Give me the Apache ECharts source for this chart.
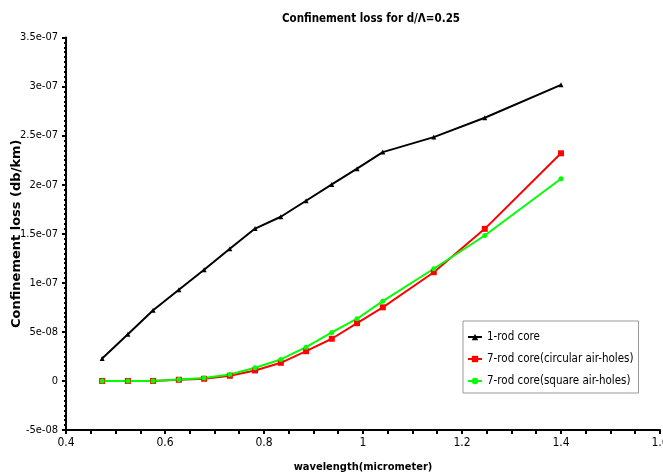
<!DOCTYPE html>
<html>
<head>
<meta charset="utf-8">
<script src="https://cdn.jsdelivr.net/npm/echarts@6/dist/echarts.min.js"></script>
<style>html,body{margin:0;padding:0;background:#fff}#c{width:663px;height:476px}</style>
</head>
<body>
<div id="c"></div>
<script>
// wavelength (micrometer) of each marked point
const wavelengths = [0.473, 0.525, 0.576, 0.628, 0.679, 0.731, 0.782, 0.834, 0.885, 0.937, 0.988, 1.040, 1.143, 1.246, 1.400];
// confinement loss (db/km)
const rod1 = [2.28e-8, 4.76e-8, 7.2e-8, 9.3e-8, 1.134e-7, 1.348e-7, 1.553e-7, 1.673e-7, 1.836e-7, 2.003e-7, 2.163e-7, 2.332e-7, 2.485e-7, 2.682e-7, 3.018e-7];
const rod7Circular = [0, 0, 0, 1.2e-9, 2.2e-9, 5.3e-9, 1.07e-8, 1.85e-8, 3.03e-8, 4.3e-8, 5.89e-8, 7.5e-8, 1.108e-7, 1.55e-7, 2.32e-7];
const rod7Square = [0, 0, 0, 1.5e-9, 2.9e-9, 6.6e-9, 1.34e-8, 2.19e-8, 3.44e-8, 4.94e-8, 6.34e-8, 8.13e-8, 1.143e-7, 1.482e-7, 2.06e-7];
const seriesNames = ['1-rod core', '7-rod core(circular air-holes)', '7-rod core(square air-holes)'];
const yTickLabels = ['-5e-08', '0', '5e-08', '1e-07', '1.5e-07', '2e-07', '2.5e-07', '3e-07', '3.5e-07'];
const xTickLabels = ['0.4', '0.6', '0.8', '1', '1.2', '1.4', '1.6'];

const narrow = '"Liberation Sans Narrow", "DejaVu Sans Condensed", sans-serif';
const pair = (ys) => wavelengths.map((x, i) => [x, ys[i]]);

const chart = echarts.init(document.getElementById('c'));
chart.setOption({
  animation: false,
  backgroundColor: '#fff',
  title: {
    text: 'Confinement loss for d/Λ=0.25',
    left: 366, top: 8, textAlign: 'center',
    textStyle: {fontFamily: narrow, fontWeight: 'bold', fontSize: 11.5, color: '#000'}
  },
  grid: {left: 66, right: 3, top: 37.5, bottom: 46, containLabel: false, outerBoundsMode: 'none'},
  legend: {
    orient: 'vertical', left: 463, top: 321,
    data: seriesNames,
    itemWidth: 14, itemHeight: 8, itemGap: 8,
    padding: [9, 5, 5, 4],
    borderColor: '#999', borderWidth: 1, backgroundColor: '#fff',
    textStyle: {fontFamily: narrow, fontSize: 11.5, lineHeight: 14, color: '#000'}
  },
  xAxis: {
    type: 'value', min: 0.4, max: 1.6, interval: 0.2,
    name: 'wavelength(micrometer)', nameLocation: 'middle', nameGap: 32, nameMoveOverlap: false,
    nameTextStyle: {fontFamily: narrow, fontWeight: 'bold', fontSize: 11, color: '#000'},
    axisLine: {onZero: false, lineStyle: {color: '#000', width: 2}},
    axisTick: {show: true, length: 4, lineStyle: {color: '#000', width: 2}},
    minorTick: {show: true, splitNumber: 4, length: 4, lineStyle: {color: '#000', width: 2}},
    splitLine: {show: false},
    axisLabel: {
      fontFamily: narrow, fontSize: 12, color: '#000', margin: 7,
      formatter: (v) => xTickLabels[Math.round((v - 0.4) / 0.2)]
    }
  },
  yAxis: {
    type: 'value', min: -5e-8, max: 3.5e-7, interval: 5e-8,
    name: 'Confinement loss (db/km)', nameLocation: 'middle', nameGap: 43, nameRotate: 90, nameMoveOverlap: false,
    nameTextStyle: {fontFamily: '"DejaVu Sans", sans-serif', fontWeight: 'bold', fontSize: 13, color: '#000'},
    axisLine: {onZero: false, lineStyle: {color: '#000', width: 2}},
    axisTick: {show: true, length: 4, lineStyle: {color: '#000', width: 2}},
    minorTick: {show: true, splitNumber: 10, length: 2, lineStyle: {color: '#000', width: 2}},
    splitLine: {show: false},
    axisLabel: {
      fontFamily: narrow, fontSize: 11, color: '#000', margin: 8,
      formatter: (v) => yTickLabels[Math.round((v + 5e-8) / 5e-8)]
    }
  },
  series: [
    {name: seriesNames[0], type: 'line', data: pair(rod1), color: '#000000',
     symbol: 'triangle', symbolSize: 5, lineStyle: {width: 2, color: '#000'}, itemStyle: {color: '#000'}},
    {name: seriesNames[1], type: 'line', data: pair(rod7Circular), color: '#ff0000',
     symbol: 'rect', symbolSize: 6, lineStyle: {width: 2, color: '#ff0000'}, itemStyle: {color: '#ff0000'}},
    {name: seriesNames[2], type: 'line', data: pair(rod7Square), color: '#00ff00',
     symbol: 'circle', symbolSize: 5, lineStyle: {width: 2, color: '#00ff00'}, itemStyle: {color: '#00ff00'}}
  ]
});
</script>
</body>
</html>
